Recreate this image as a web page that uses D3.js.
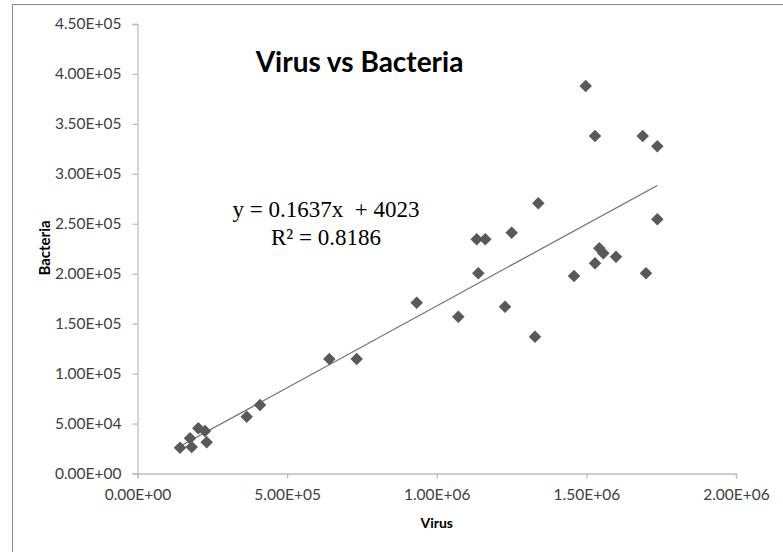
<!DOCTYPE html>
<html>
<head>
<meta charset="utf-8">
<script src="https://cdn.jsdelivr.net/npm/d3@7"></script>
<style>
  html, body { margin: 0; padding: 0; background: #fff; }
  svg { display: block; }
</style>
</head>
<body>
<script>
// ---- data ----
const chartTitle = "Virus vs Bacteria";
const xTitle = "Virus";
const yTitle = "Bacteria";
const virus = [142000, 181000, 175400, 203200, 225600, 231200, 364900, 409400, 641000, 732500,
  933000, 1072000, 1133500, 1162200, 1138800, 1228100, 1250500, 1328300, 1339400, 1458700,
  1497700, 1528800, 1528800, 1543200, 1556600, 1599000, 1688200, 1699200, 1737000, 1737000];
const bacteria = [25800, 26500, 35200, 45200, 42500, 31200, 56900, 68600, 114600, 114600,
  171000, 157000, 234500, 234500, 200400, 167000, 241100, 137000, 270500, 197700,
  387900, 337900, 210400, 225400, 220400, 217000, 337900, 200400, 327600, 254500];
const xTicks = [0, 500000, 1000000, 1500000, 2000000];
const yTicks = [0, 50000, 100000, 150000, 200000, 250000, 300000, 350000, 400000, 450000];
const trendSlope = 0.1637;
const trendIntercept = 4023;
const eqLines = ["y = 0.1637x  + 4023", "R² = 0.8186"];

// ---- layout ----
const W = 783, H = 552;
const svg = d3.select("body").append("svg").attr("width", W).attr("height", H);

svg.append("rect").attr("x", 12.5).attr("y", 4.5).attr("width", 900).attr("height", 700)
  .attr("fill", "#fff").attr("stroke", "#8a8a8a").attr("stroke-width", 1);

const x = d3.scaleLinear().domain([0, 2000000]).range([137.5, 736]);
const y = d3.scaleLinear().domain([0, 450000]).range([473.5, 24]);

const fmt = d => {
  const s = d3.format(".2e")(d).toUpperCase();
  return s.replace(/E([+-])(\d)$/, "E$10$2");
};

const axisColor = "#bdbdbd";
const labelColor = "#404040";
const tickFont = "Lato, 'Open Sans', sans-serif";

const xAxis = svg.append("g").attr("transform", `translate(0,${y(0)})`)
  .call(d3.axisBottom(x).tickValues(xTicks).tickFormat(fmt).tickSize(5).tickPadding(10));
const yAxis = svg.append("g").attr("transform", `translate(${x(0)},0)`)
  .call(d3.axisLeft(y).tickValues(yTicks).tickFormat(fmt).tickSize(5).tickPadding(11));

[xAxis, yAxis].forEach(g => {
  g.select(".domain").attr("stroke", axisColor).attr("stroke-width", 1.3);
  g.selectAll(".tick line").attr("stroke", axisColor).attr("stroke-width", 1.3);
  g.selectAll(".tick text").attr("fill", labelColor)
    .style("font-family", tickFont).style("font-size", "15.5px");
});

// trend line
const xr = d3.extent(virus);
svg.append("line")
  .attr("x1", x(xr[0])).attr("y1", y(trendSlope * xr[0] + trendIntercept))
  .attr("x2", x(xr[1])).attr("y2", y(trendSlope * xr[1] + trendIntercept))
  .attr("stroke", "#6e6e6e").attr("stroke-width", 1.2);

// points
const diamond = d3.symbol().type(d3.symbolDiamond2).size(100);
svg.append("g").selectAll("path").data(virus.map((v, i) => [v, bacteria[i]]))
  .join("path")
  .attr("d", diamond)
  .attr("transform", d => `translate(${x(d[0])},${y(d[1])})`)
  .attr("fill", "#595959");

// title
svg.append("text").attr("x", 359.5).attr("y", 72).attr("text-anchor", "middle")
  .style("font-family", "Lato, sans-serif").style("font-weight", "bold")
  .style("font-size", "28px").attr("fill", "#000").text(chartTitle);

// axis titles
svg.append("text").attr("x", x(1000000)).attr("y", 528).attr("text-anchor", "middle")
  .style("font-family", "Lato, sans-serif").style("font-weight", "bold")
  .style("font-size", "14px").attr("fill", "#000").text(xTitle);
svg.append("text").attr("transform", "translate(50,248) rotate(-90)").attr("text-anchor", "middle")
  .style("font-family", "Lato, sans-serif").style("font-weight", "bold")
  .style("font-size", "15px").attr("fill", "#000").text(yTitle);

// equation
svg.append("g").selectAll("text").data(eqLines).join("text")
  .attr("x", 326).attr("y", (d, i) => 217 + i * 28).attr("text-anchor", "middle")
  .attr("xml:space", "preserve").style("white-space", "pre")
  .style("font-family", "'Liberation Serif', 'Times New Roman', serif")
  .style("font-size", "23px").attr("fill", "#000").text(d => d);
</script>
</body>
</html>
